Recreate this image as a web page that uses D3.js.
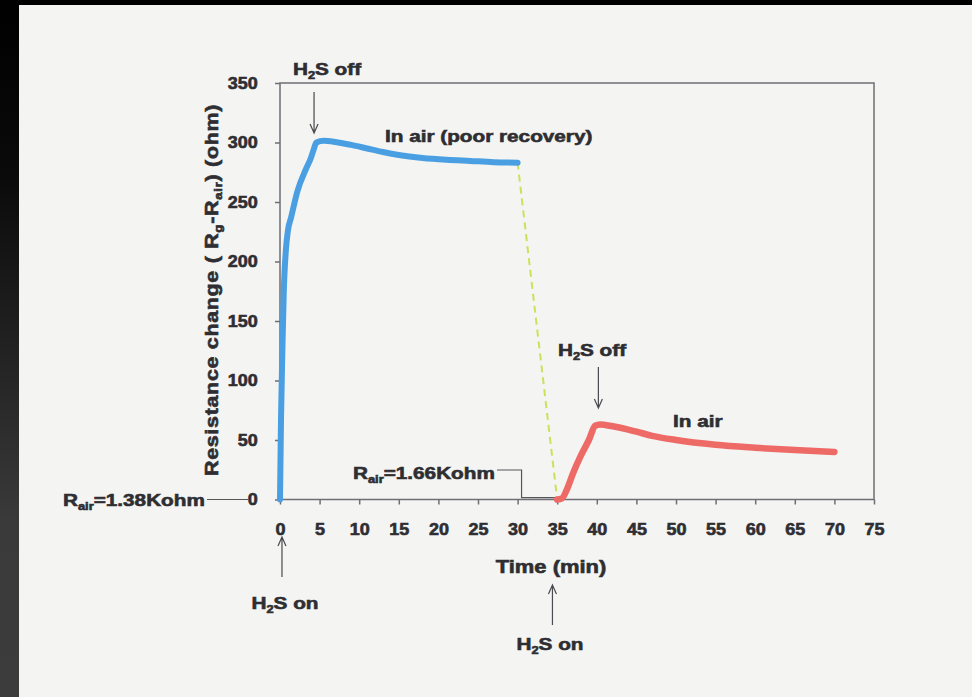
<!DOCTYPE html>
<html>
<head>
<meta charset="utf-8">
<script src="https://cdn.jsdelivr.net/npm/d3@7"></script>
<style>
  html, body { margin: 0; padding: 0; background: #f4f4f2; }
  svg { display: block; }
</style>
</head>
<body>
<div id="chart"></div>
<script>
// data
const xTicks = [0, 5, 10, 15, 20, 25, 30, 35, 40, 45, 50, 55, 60, 65, 70, 75];
const yTicks = [0, 50, 100, 150, 200, 250, 300, 350];

// first exposure (blue), time in min, resistance change in ohm
const blueTime = [0, 0.13, 0.3, 0.47, 0.76, 1.0, 1.4, 2.2, 3.3, 3.9, 4.2, 4.6, 5.5, 7, 9, 11, 13, 15, 18, 21, 24, 27, 30];
const blueVal  = [0, 69, 125, 173, 211, 226, 237, 259, 278, 287, 293, 300, 301.5, 300.5, 298, 295, 292, 289.5, 287, 285.5, 284.5, 283.5, 283];

// second exposure (red)
const redTime = [35, 35.6, 36.2, 37, 38, 39, 39.8, 40.4, 42, 45, 47, 50, 55, 60, 65, 70];
const redVal  = [0, 1, 8, 22, 37, 50, 62, 63, 61.5, 57, 53.5, 50, 46, 43.5, 41.5, 40];

// dashed jump between the two runs
const jumpTime = [30, 35];
const jumpVal  = [283, 0];

const width = 972, height = 697;
const ink = "#2e2e32";
const frameColor = "#6e6e74";
const font = "'Liberation Sans', Arial, sans-serif";
const stretch = 1.22;

const svg = d3.select("#chart").append("svg")
  .attr("width", width)
  .attr("height", height);

// paper and the dark scan border
const defs = svg.append("defs");
const grad = defs.append("linearGradient").attr("id", "edge")
  .attr("x1", 0).attr("y1", 0).attr("x2", 0).attr("y2", 1);
grad.append("stop").attr("offset", "0%").attr("stop-color", "#000");
grad.append("stop").attr("offset", "25%").attr("stop-color", "#0a0a0a");
grad.append("stop").attr("offset", "75%").attr("stop-color", "#3a3a3a");
grad.append("stop").attr("offset", "100%").attr("stop-color", "#3c3c3c");

svg.append("rect").attr("width", width).attr("height", height).attr("fill", "#f4f4f2");
svg.append("rect").attr("width", width).attr("height", 5).attr("fill", "#000");
svg.append("rect").attr("y", 0).attr("width", 19).attr("height", height).attr("fill", "url(#edge)");

// scales
const x = d3.scaleLinear().domain([0, 75]).range([280, 874]);
const y = d3.scaleLinear().domain([0, 350]).range([499.5, 83]);

// axes
const xAxis = svg.append("g")
  .attr("transform", `translate(0,${y(0)})`)
  .call(d3.axisBottom(x).tickValues(xTicks).tickSize(5).tickSizeOuter(0).tickPadding(18));
const yAxis = svg.append("g")
  .attr("transform", `translate(${x(0)},0)`)
  .call(d3.axisLeft(y).tickValues(yTicks).tickSize(5).tickSizeOuter(0).tickPadding(16));

[xAxis, yAxis].forEach(ax => {
  ax.select(".domain").remove();
  ax.selectAll(".tick line").attr("stroke", frameColor).attr("stroke-width", 1.5);
  ax.selectAll(".tick text")
    .attr("fill", ink)
    .attr("stroke", ink)
    .attr("stroke-width", 0.6)
    .style("font-family", font)
    .style("font-size", "17px")
    .style("font-weight", "bold")
    .attr("transform", "scale(1.06,1)");
});

// plot frame
svg.append("rect")
  .attr("x", x(0)).attr("y", y(350))
  .attr("width", x(75) - x(0)).attr("height", y(0) - y(350))
  .attr("fill", "none")
  .attr("stroke", frameColor)
  .attr("stroke-width", 1.5);

// series
const line = d3.line()
  .x(d => x(d[0]))
  .y(d => y(d[1]))
  .curve(d3.curveMonotoneX);

svg.append("path")
  .datum(d3.zip(jumpTime, jumpVal))
  .attr("d", d3.line().x(d => x(d[0])).y(d => y(d[1])))
  .attr("fill", "none")
  .attr("stroke", "#cde05c")
  .attr("stroke-width", 2)
  .attr("stroke-dasharray", "7,5");

// baseline of the second run at R_air = 1.66 Kohm
svg.append("path")
  .attr("d", d3.line()([[497, 470], [x(30.5), 470], [x(30.5), y(1.5)], [x(35), y(1.5)]]))
  .attr("fill", "none")
  .attr("stroke", "#55555a")
  .attr("stroke-width", 1.2);

svg.append("path")
  .datum(d3.zip(blueTime, blueVal))
  .attr("d", line)
  .attr("fill", "none")
  .attr("stroke", "#4a9fe2")
  .attr("stroke-width", 6)
  .attr("stroke-linecap", "round")
  .attr("stroke-linejoin", "round");

svg.append("path")
  .datum(d3.zip(redTime, redVal))
  .attr("d", line)
  .attr("fill", "none")
  .attr("stroke", "#ee6a66")
  .attr("stroke-width", 6.5)
  .attr("stroke-linecap", "round")
  .attr("stroke-linejoin", "round");

// leader for R_air = 1.38 Kohm
svg.append("line")
  .attr("x1", 207).attr("x2", 248)
  .attr("y1", y(0)).attr("y2", y(0))
  .attr("stroke", "#55555a").attr("stroke-width", 1.2);

// labels: parts are [text, isSub]
function label(px, py, parts, opts = {}) {
  const size = opts.size || 17;
  const sx = opts.stretch || stretch;
  const t = svg.append("text")
    .attr("transform", `translate(${px},${py})${opts.rotate ? " rotate(-90)" : ""} scale(${sx},1)`)
    .attr("text-anchor", opts.anchor || "start")
    .attr("fill", ink)
    .attr("stroke", ink)
    .attr("stroke-width", 0.6)
    .style("font-family", font)
    .style("font-size", size + "px")
    .style("font-weight", "bold")
    .style("letter-spacing", (opts.spacing || 0) + "px");
  let down = false;
  parts.forEach(([txt, sub]) => {
    const s = t.append("tspan").text(txt);
    if (sub && !down) { s.attr("dy", 4).style("font-size", (size * 0.62) + "px"); down = true; }
    else if (!sub && down) { s.attr("dy", -4); down = false; }
    else if (sub) s.style("font-size", (size * 0.62) + "px");
  });
  return t;
}

function arrow(px, y1, y2) {
  // open arrow head at y2
  const dir = y2 > y1 ? -1 : 1;
  svg.append("path")
    .attr("d", `M${px},${y1}L${px},${y2}M${px - 4},${y2 + dir * 9}L${px},${y2}L${px + 4},${y2 + dir * 9}`)
    .attr("fill", "none")
    .attr("stroke", "#4a4a50")
    .attr("stroke-width", 1.2);
}

const h2s = (word) => [["H"], ["2", true], ["S " + word]];

label(327, 75, h2s("off"), { anchor: "middle" });
arrow(x(4.3), 92, 133);

label(592, 356, h2s("off"), { anchor: "middle" });
arrow(x(40.2), 367, 408);

label(385, 142, [["In air (poor recovery)"]]);
label(673, 427, [["In air"]]);

label(63, 506, [["R"], ["air", true], ["=1.38Kohm"]]);
label(353, 479, [["R"], ["air", true], ["=1.66Kohm"]]);

arrow(x(0.25), 577, 537);
label(285, 609, h2s("on"), { anchor: "middle" });

arrow(x(34.4), 625, 585);
label(550, 650, h2s("on"), { anchor: "middle" });

label(551, 573, [["Time (min)"]], { anchor: "middle", size: 18 });

label(218, 290, [["Resistance change ( R"], ["g", true], ["-R"], ["air", true], [") (ohm)"]],
  { anchor: "middle", size: 18, rotate: true, stretch: 1.19, spacing: 0.6 });
</script>
</body>
</html>
